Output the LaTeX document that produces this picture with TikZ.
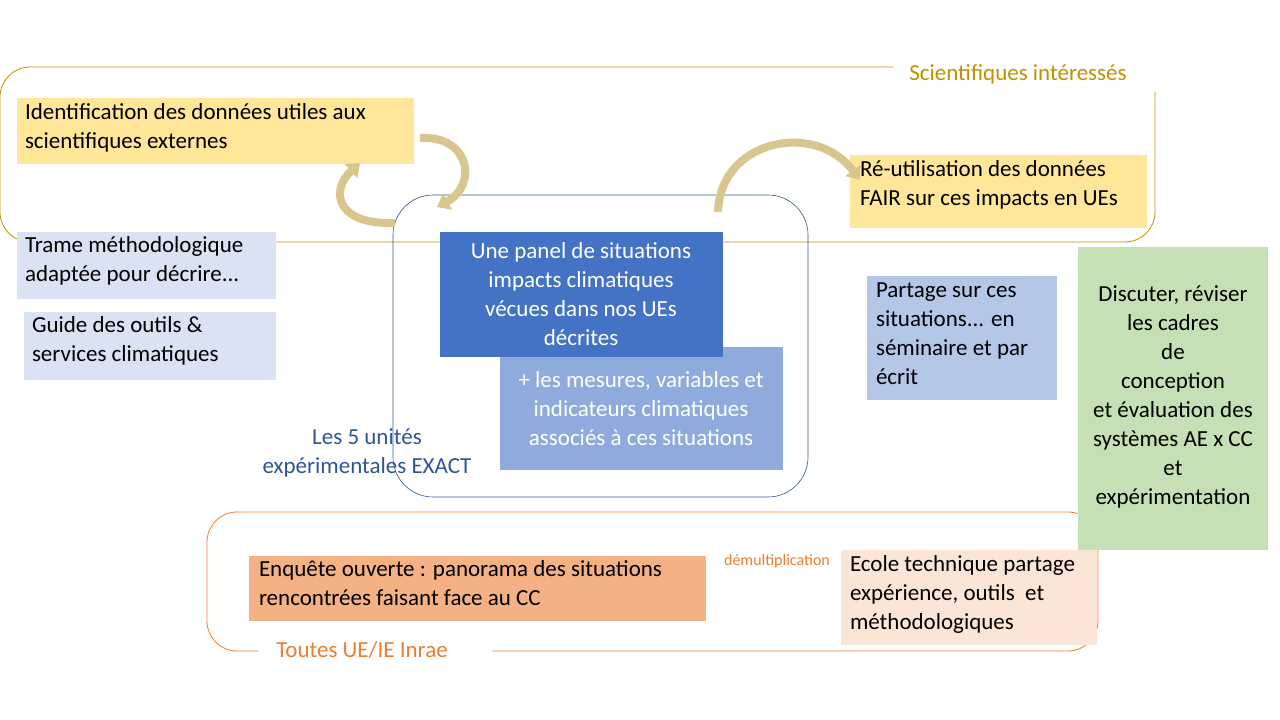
\documentclass[tikz,border=0pt]{standalone}
\usepackage{fontspec}
\setmainfont{Carlito}
\usetikzlibrary{arrows.meta}
\definecolor{gold}{HTML}{BF9000}
\definecolor{yel}{HTML}{FFE699}
\definecolor{lblue}{HTML}{DAE3F3}
\definecolor{dblue}{HTML}{4472C4}
\definecolor{mblue}{HTML}{8FAADC}
\definecolor{sblue}{HTML}{B4C7E7}
\definecolor{nblue}{HTML}{2F5597}
\definecolor{grn}{HTML}{C5E0B4}
\definecolor{org}{HTML}{ED7D31}
\definecolor{lorg}{HTML}{F4B183}
\definecolor{peach}{HTML}{FBE5D6}
\definecolor{tan}{HTML}{D9C58E}
\begin{document}
\begin{tikzpicture}[x=1pt,y=-1pt,
  txt/.style={font=\fontsize{23}{29}\selectfont},
  box/.style={txt,anchor=north west,inner sep=0pt,outer sep=0pt,align=left},
  barrow/.style={draw=none,line width=9pt,-{Triangle[length=14pt,width=20pt]}},
  carrow/.style={line width=8pt,draw=tan,-{Triangle[length=12pt,width=18pt]}}]
\useasboundingbox (0,0) rectangle (1280,720);
% gold frame
\draw[gold,line width=0.8pt,rounded corners=30pt] (893,67) -- (0,67) -- (0,242) -- (1155,242) -- (1155,92);
\node[txt,text=gold] (sci) at (1018,74) {Scientifiques intéressés};
% blue frame
\draw[nblue,line width=0.6pt,rounded corners=40pt] (393,195) rectangle (808,497);
% orange frame
\draw[org,line width=0.8pt,rounded corners=30pt] (258,651) -- (207,651) -- (207,512) -- (1098,512) -- (1098,651) -- (492,651);
\node[txt,text=org] (toutes) at (362,650) {Toutes UE/IE Inrae};
% yellow boxes
\fill[yel] (17,98) rectangle (414,164);
\node[box] (ident) at (25,104) {Identification des données utiles aux\\scientifiques externes};
\fill[yel] (850,155) rectangle (1147,228);
\node[box] (reut) at (860,161) {Ré-utilisation des données\\FAIR sur ces impacts en UEs};
% light blue boxes
\fill[lblue] (17,232) rectangle (276,299);
\node[box] (trame) at (25,237) {Trame méthodologique\\adaptée pour décrire...};
\fill[lblue] (24,312) rectangle (276,380);
\node[box] (guide) at (32,317) {Guide des outils \&\\services climatiques};
% medium blue box
\fill[mblue] (500,347) rectangle (783,470);
\node[txt,text=white,align=center] (mes) at (641,409) {+ les mesures, variables et\\indicateurs climatiques\\associés à ces situations};
% dark blue box
\fill[dblue] (440,232) rectangle (723,357);
\node[txt,text=white,align=center] (panel) at (581,294) {Une panel de situations\\impacts climatiques\\vécues dans nos UEs\\décrites};
\node[txt,text=nblue,align=center] (exact) at (367,453) {Les 5 unités\\expérimentales EXACT};
% partage
\fill[sblue] (867,276) rectangle (1057,400);
\node[box] (part) at (876,283) {Partage sur ces\\situations... en\\séminaire et par\\écrit};
% green
\fill[grn] (1078,247) rectangle (1268,550);
\node[txt,align=center] (disc) at (1173,397) {Discuter, réviser\\les cadres\\de\\conception\\et évaluation des\\systèmes AE x CC\\et\\expérimentation};
% orange boxes
\fill[lorg] (249,556) rectangle (706,621);
\node[box] (enq) at (259,561) {Enquête ouverte : panorama des situations\\rencontrées faisant face au CC};
\fill[peach] (841,550) rectangle (1097,645);
\node[box] (ecole) at (850,556) {Ecole technique partage\\expérience, outils~ et\\méthodologiques};
\node[font=\fontsize{16}{18}\selectfont,text=org] (dem) at (777,561) {démultiplication};
% blue arrows
\coordinate (a1) at (280,264); \coordinate (b1) at (426,264);
\coordinate (a2) at (280,332); \coordinate (b2) at (426,332);
\coordinate (a3) at (750,305); \coordinate (b3) at (867,305);
\coordinate (a4) at (895,415); \coordinate (b4) at (895,536);
\coordinate (a5) at (722,589); \coordinate (b5) at (823,589);
\draw[barrow,dblue] (a1) -- (b1);
\draw[barrow,dblue] (a2) -- (b2);
\draw[barrow,dblue] (a3) -- (b3);
\draw[barrow,dblue] (a4) -- (b4);
\draw[barrow,org] (a5) -- (b5);
% curved arrows
\coordinate (c1) at (420,138); \coordinate (d1) at (437,207);
\coordinate (c2) at (395,223); \coordinate (d2) at (360,163);
\coordinate (c3) at (718,212); \coordinate (d3) at (860,180);
\draw[carrow] (c1) .. controls (470,135) and (478,185) .. (d1);
\draw[carrow] (c2) .. controls (335,225) and (330,190) .. (d2);
\draw[carrow] (c3) .. controls (720,140) and (815,120) .. (d3);
\end{tikzpicture}
\end{document}
